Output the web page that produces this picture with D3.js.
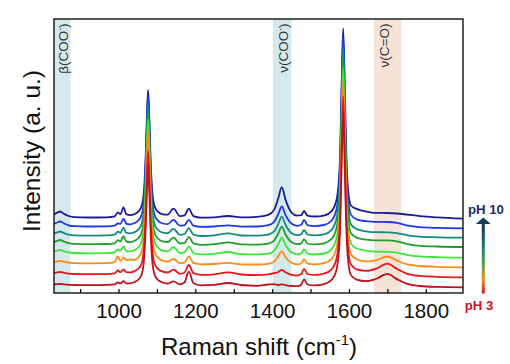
<!DOCTYPE html>
<html><head><meta charset="utf-8">
<script src="https://cdn.jsdelivr.net/npm/d3@7"></script>
<style>
html,body{margin:0;padding:0;background:#fff;}
svg{display:block;font-family:Arial,"Liberation Sans",Helvetica,sans-serif;}
</style></head>
<body>
<svg id="chart" width="510" height="364"></svg>
<script>
// ---- data ----
const wavenumbers = [832,840,848,858,870,885,920,970,990,998,1005,1013,1020,1030,1042,1052,1060,1066,1071,1074,1077,1080,1083,1088,1094,1102,1115,1128,1143,1160,1172,1183,1195,1215,1250,1285,1320,1360,1390,1405,1416,1425,1435,1450,1465,1476,1483,1492,1510,1535,1555,1568,1576,1581,1585,1589,1592,1597,1605,1620,1645,1670,1700,1725,1750,1785,1830,1897];

const pHLabels = ["pH 3","pH 4","pH 5","pH 6","pH 7","pH 8","pH 9","pH 10"];
const stackOffsets = [8, 19, 30, 40, 49, 57.5, 66.5, 75.5];

const pH3 = [.5,.8,1.0,.6,.2, 0,-.2,.1,.55,2.6, 1.5,3.8,1.7,1.6,3.0, 5.5,10.3,23.5,59.5,95.5, 119.5,95.5,59.5,23.5,10.25, 5.4,2.5,1.5,3.6,.65, 2.7,13.3,2.0,-.35,.1, 2.0,0,-.8,.5,.8, 0,.7,-.1,-1.0,-1.2, .5,5.7,.5,-.4,.9, 5.1,15.9,47.4,120.9,173.4, 120.9,71.9,28.1,10.1,5.4, 3.9,6.0,11.1,5.9,1.3, -1.0,-1.9,-2.3];
const pH4 = [1.0,1.6,2.0,1.2,.4, 0,-.2,-.1,.55,3.5, 1.7,4.6,1.8,1.6,2.9, 5.5,10.45,24.1,61.25,98.4, 123.2,98.4,61.2,24.0,10.3, 5.4,2.3,1.5,4.3,.2, 1.5,9.0,.9,-.85,-.3, 1.6,-.5,-1.1,-.3,.8, 2.0,4.2,1.7,-.8,-1.5, 0,5.2,0,-.9,.3, 4.6,15.7,48.1,123.7,177.7, 123.6,73.2,28.2,9.7,4.7, 3.2,5.2,10.3,5.0,.4, -1.9,-2.8,-3.3];
const pH5 = [1.0,1.6,2.0,1.2,.35, -.1,-.3,-.2,.8,6.5, 2.2,5.6,2.8,3.5,3.0, 5.8,11.05,25.65,65.5,105.4, 132,105.4,65.5,25.6,10.9, 5.6,2.3,1.3,4.0,-.2, .7,6.7,.1,-1.3,-1.0, .2,-1.3,-1.5,-.8,1.4, 6.6,11.6,5.8,.2,-1.4, -.5,3.9,-.6,-1.4,-.2, 4.2,15.6,49.1,127.2,183, 127.1,75.0,28.5,9.0,3.7, 1.6,2.6,6.5,2.4,-1.2, -3.0,-3.8,-4.3];
const pH6 = [1.5,2.4,3.0,1.8,.6, 0,-.3,-.2,.5,3.5, 2.05,6.5,2.2,1.6,3.0, 5.8,11.15,26.0,66.4,106.9, 133.9,106.9,66.4,25.9,11.0, 5.6,2.35,1.6,5.9,0, .7,6.6,0,-1.4,-.8, 1.0,-1.1,-1.4,-.6,2.2, 8.9,15.4,8.0,.7,-1.3, -.4,3.85,-.6,-1.5,-.5, 3.95,15.55,49.3,128.3,184.7, 128.3,75.6,28.6,9.4,4.5, 2.3,1.3,1.2,.3,-1.8, -3.45,-4.15,-4.7];
const pH7 = [2.0,3.2,4.0,2.4,.9, .2,-.2,0,.7,3.8, 2.5,7.8,2.7,1.9,3.2, 6.0,11.25,25.7,65.3,104.9, 131.3,104.9,65.3,25.7,11.1, 5.8,2.7,2.0,6.4,.5, 1.2,7.2,.6,-.8,-.2, 1.7,-.35,-.6,.4,3.4, 10.5,17.3,9.5,1.9,-.2, .6,4.9,.5,-.4,.7, 5.1,16.8,50.8,130.2,186.9, 130.2,77.3,30.0,10.9,6.3, 4.4,3.6,3.55,2.6,.1, -1.8,-2.5,-3.0];
const pH8 = [2.0,3.2,4.0,2.4,.9, .2,-.1,.1,.85,3.9, 2.7,7.9,2.8,2.05,3.4, 6.1,11.4,25.9,65.5,105.1, 131.5,105.1,65.5,25.9,11.3, 6.0,2.9,2.25,6.6,.7, 1.5,7.45,.85,-.5,.15, 2.05,0,-.1,.95,4.1, 11.6,18.8,10.55,2.5,.35, 1.2,5.5,1.0,.15,1.2, 5.7,17.5,51.7,131.5,188.4, 131.4,78.2,30.7,11.3,6.4, 4.2,3.3,3.2,2.4,.35, -1.2,-1.8,-2.2];
const pH9 = [2.5,4.0,5.0,3.0,1.2, .3,0,.15,.8,3.0, 2.6,7.9,2.9,2.1,3.45, 6.2,11.4,25.8,65.1,104.4, 130.6,104.4,65.1,25.8,11.35, 6.1,3.0,2.35,6.7,.8, 1.4,6.6,.8,-.4,0, 1.2,-.15,0,1.3,4.6, 12.45,20,11.4,2.95,.7, 1.7,6.7,1.4,.4,1.5, 6.0,17.8,51.9,131.7,188.7, 131.7,78.5,31.0,11.9,7.2, 5.3,4.6,4.5,3.6,1.15, -.7,-1.4,-1.8];
const pH10 = [3.0,4.8,6.0,3.6,1.5, .4,0,.2,1.1,5.2, 3.4,10.1,3.45,2.3,3.5, 6.15,11.25,25.3,63.7,102.1, 127.7,102.1,63.7,25.3,11.2, 6.1,3.2,2.85,8.9,1.4, 2.1,8.8,1.4,-.1,.2, 1.5,.1,.6,2.6,7.6, 19.2,30.3,17.6,5.2,1.9, 2.3,6.5,1.95,1.0,1.9, 6.4,18.2,52.4,132.2,189.2, 132.1,78.9,31.4,12.0,8.6, 6.0,4.6,4.5,4.0,3.0, 1.4,.1,-1.2];

const spectra = [pH3, pH4, pH5, pH6, pH7, pH8, pH9, pH10];
const lineColors = ["#bd111d","#e8161c","#ff8a14","#3ae63a","#1f9e2c","#158a7e","#1f38e8","#191c92"];

const bandRanges = [[832, 875], [1402, 1450], [1665, 1736]];
const bandLabels = ["β(COO", "ν(COO", "ν(C=O)"];
const bandSup = ["-", "-", ""];
const bandColors = ["#d5e9ec", "#d5e9ec", "#f5e3d8"];

const xTicks = [900,1000,1100,1200,1300,1400,1500,1600,1700,1800];

// ---- layout ----
const svg = d3.select("#chart");
const L = 54, R = 463, T = 19, B = 293;
const x = d3.scaleLinear().domain([832, 1897]).range([L, R]);
const y = d3.scaleLinear().domain([0, 274]).range([B, T]);

svg.append("rect").attr("width",510).attr("height",364).attr("fill","#fff");

svg.append("clipPath").attr("id","plotclip").append("rect")
  .attr("x",L).attr("y",T).attr("width",R-L).attr("height",B-T);

// bands
const bandG = svg.append("g");
bandRanges.forEach((r,i)=>{
  bandG.append("rect").attr("x",x(r[0])).attr("y",T)
    .attr("width",x(r[1])-x(r[0])).attr("height",B-T)
    .attr("fill",bandColors[i]);
});

// band labels
const labelX = [x(bandRanges[0][0]) + 14, x(bandRanges[1][0]) + 15.5, x(bandRanges[2][0]) + 15.5];
bandLabels.forEach((t,i)=>{
  const tx = svg.append("text")
    .attr("transform",`translate(${labelX[i]},${T+4.5}) rotate(-90)`)
    .attr("text-anchor","end").attr("font-size",13.5).attr("fill","#333");
  tx.append("tspan").text(t);
  if (bandSup[i]) {
    tx.append("tspan").attr("font-size",8.5).attr("dy",-5.5).text(bandSup[i]);
    tx.append("tspan").attr("dy",5.5).text(")");
  }
});

// spectra
const line = d3.line().curve(d3.curveMonotoneX);
const specG = svg.append("g").attr("clip-path","url(#plotclip)");
for (let i = spectra.length - 1; i >= 0; i--) {
  const pts = wavenumbers.map((w,j)=>[x(w), y(spectra[i][j] + stackOffsets[i])]);
  specG.append("path").attr("d", line(pts)).attr("fill","none")
    .attr("stroke", lineColors[i]).attr("stroke-width",1.8).attr("stroke-linejoin","round");
}

// frame
svg.append("rect").attr("x",L).attr("y",T).attr("width",R-L).attr("height",B-T)
  .attr("fill","none").attr("stroke","#000").attr("stroke-width",1.3);

// x axis
const xAxis = d3.axisBottom(x).tickValues(xTicks)
  .tickFormat(d => d % 200 === 0 ? d : "")
  .tickSize(-4).tickPadding(10).tickSizeOuter(0);
const ax = svg.append("g").attr("transform",`translate(0,${B})`).call(xAxis);
ax.select(".domain").remove();
ax.selectAll(".tick line").attr("stroke","#000").attr("stroke-width",1.2);
ax.selectAll(".tick text").attr("font-size",20.5).attr("fill","#111")
  .attr("font-family","Arial,'Liberation Sans',sans-serif");

// axis titles
const xt = svg.append("text").attr("x",259).attr("y",355).attr("text-anchor","middle")
  .attr("font-size",24).attr("fill","#111");
xt.append("tspan").text("Raman shift (cm");
xt.append("tspan").attr("font-size",15).attr("dy",-10).text("-1");
xt.append("tspan").attr("dy",10).text(")");

svg.append("text").attr("transform","translate(40,151) rotate(-90)")
  .attr("text-anchor","middle").attr("font-size",24.5).attr("fill","#111")
  .text("Intensity (a. u.)");

// pH legend arrow
const defs = svg.append("defs");
const grad = defs.append("linearGradient").attr("id","phgrad")
  .attr("x1",0).attr("y1",1).attr("x2",0).attr("y2",0);
[[0,"#d4141c"],[0.2,"#f39020"],[0.38,"#5aa83a"],[0.65,"#1f7a72"],[0.92,"#163a62"],[1,"#163a62"]]
  .forEach(s=>grad.append("stop").attr("offset",s[0]).attr("stop-color",s[1]));

const ax0 = 483.3;
svg.append("rect").attr("x",ax0-1.5).attr("y",222).attr("width",3).attr("height",71.5)
  .attr("fill","url(#phgrad)");
svg.append("path").attr("d",`M${ax0-7.5},224 L${ax0},217.5 L${ax0+7.5},224 Z`).attr("fill","#163a5e");

svg.append("text").attr("x",486).attr("y",214).attr("text-anchor","middle")
  .attr("font-size",13.2).attr("font-weight","bold").attr("fill","#1b2b6e").text(pHLabels[7]);
svg.append("text").attr("x",479).attr("y",309.5).attr("text-anchor","middle")
  .attr("font-size",13.2).attr("font-weight","bold").attr("fill","#c8141c").text(pHLabels[0]);
</script>
</body></html>
